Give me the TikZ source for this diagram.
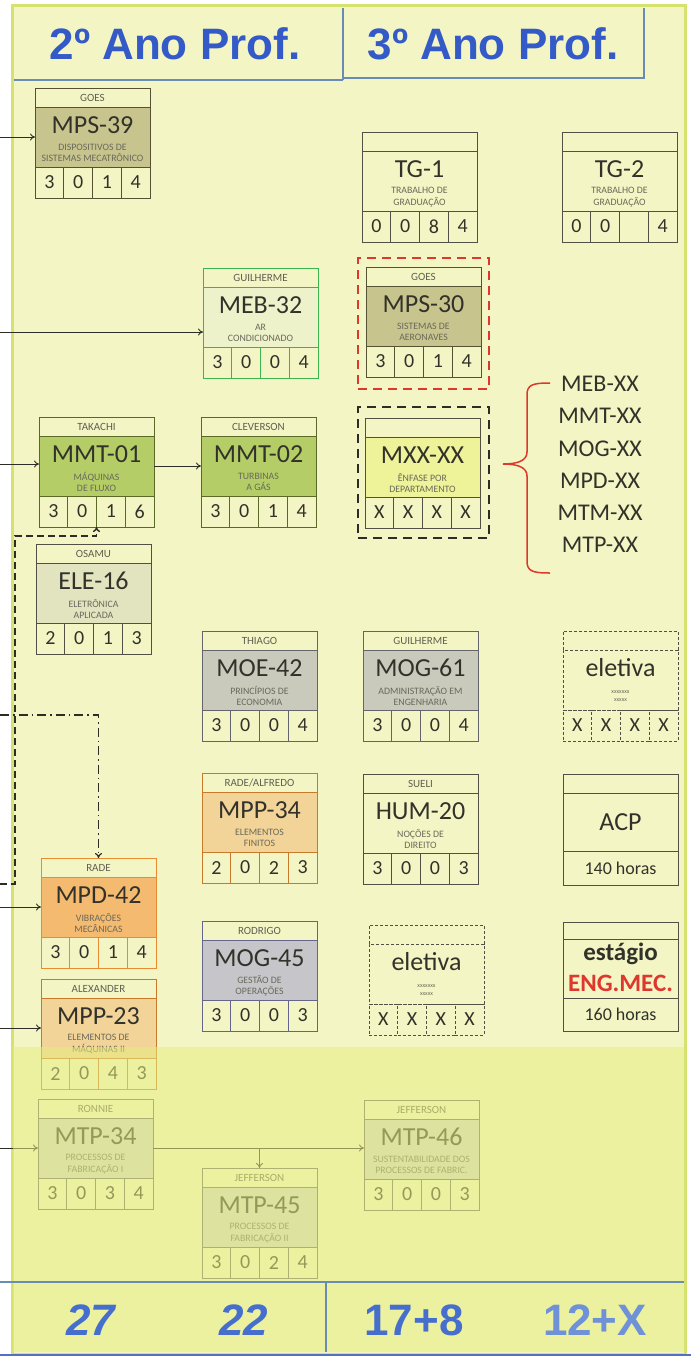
\documentclass[tikz,border=0pt]{standalone}
\usepackage{fontspec}
\setmainfont{Carlito}
\newfontfamily\titlefont{Liberation Sans}
\usetikzlibrary{arrows.meta}
\definecolor{pagec}{RGB}{243,246,196}
\definecolor{framec}{RGB}{214,226,110}
\definecolor{bandc}{RGB}{230,237,128}
\definecolor{titleblue}{RGB}{52,90,200}
\definecolor{numblue}{RGB}{70,110,205}
\definecolor{numlight}{RGB}{110,145,215}
\definecolor{rulec}{RGB}{105,140,180}
\definecolor{codec}{RGB}{50,50,42}
\definecolor{profc}{RGB}{95,95,82}
\definecolor{descc}{RGB}{105,105,90}
\definecolor{linec}{RGB}{45,45,40}
\definecolor{redc}{RGB}{222,55,45}
\definecolor{plainb}{RGB}{80,80,68}
\definecolor{khakib}{RGB}{85,82,52}
\definecolor{khakim}{RGB}{200,196,142}
\definecolor{mmtb}{RGB}{90,105,40}
\definecolor{mmtm}{RGB}{180,205,102}
\definecolor{mebb}{RGB}{60,180,80}
\definecolor{mebm}{RGB}{238,242,202}
\definecolor{elem}{RGB}{226,228,192}
\definecolor{mxxm}{RGB}{238,242,152}
\definecolor{grayb}{RGB}{100,100,108}
\definecolor{graym}{RGB}{202,202,188}
\definecolor{oranlb}{RGB}{200,122,42}
\definecolor{oranlm}{RGB}{243,212,152}
\definecolor{orandb}{RGB}{232,140,50}
\definecolor{orandm}{RGB}{244,186,112}
\definecolor{lavb}{RGB}{100,100,140}
\definecolor{lavm}{RGB}{198,198,202}
\definecolor{mtpb}{RGB}{105,105,95}
\definecolor{mtpm}{RGB}{212,214,196}
\tikzset{
  box/.style={draw, line width=0.9pt, inner sep=0pt, outer sep=0pt},
  hdr/.style={box, minimum width=115pt, minimum height=19pt, text=profc, font=\fontsize{11}{11}\selectfont},
  mainbox/.style={box, minimum width=115pt, minimum height=60pt},
  cell/.style={box, minimum width=28.75pt, minimum height=31pt, text=codec, font=\fontsize{20}{20}\selectfont},
  codetxt/.style={inner sep=0pt, text=codec, font=\fontsize{26}{26}\selectfont, anchor=base},
  descfont/.style={font=\fontsize{9.8}{11.5}\selectfont},
  desctxt/.style={inner sep=0pt, text=descc, align=center, descfont},
  arr/.style={-{To[length=5pt,width=7pt]}, line width=0.9pt, draw=linec},
  plain/.style={draw=plainb},
  khaki/.style={draw=khakib},
  mmt/.style={draw=mmtb},
  mebs/.style={draw=mebb},
  grays/.style={draw=grayb},
  oranl/.style={draw=oranlb},
  orand/.style={draw=orandb},
  lav/.style={draw=lavb},
  mtp/.style={draw=mtpb},
  eletd/.style={draw=plainb, dash pattern=on 3pt off 2pt},
  title/.style={inner sep=0pt, anchor=base, text=titleblue, font=\titlefont\bfseries\fontsize{44}{44}\selectfont},
  bignum/.style={inner sep=0pt, anchor=base, text=numblue, font=\titlefont\bfseries\itshape\fontsize{44}{44}\selectfont},
  listtxt/.style={inner sep=0pt, text=codec, font=\fontsize{24}{24}\selectfont},
}
\newcommand\course[9]{%
  \node[hdr,#4,anchor=north west] (#1h) at (#2,#3) {#6};
  \node[mainbox,#4,fill=#5,anchor=north west] (#1) at (#2,#3+19) {};
  \node[codetxt] (#1code) at (#2+57.5,#3+45) {#7};
  \node[desctxt] (#1desc) at (#2+57.5,#3+65) {#8};
  \foreach \d [count=\i] in {#9} {
    \node[cell,#4,anchor=north west] (#1c\i) at (#2+28.75*\i-28.75,#3+79) {\d};
  }%
}
\begin{document}
\begin{tikzpicture}[x=1pt,y=-1pt]
\useasboundingbox (0,0) rectangle (691,1358);
\fill[white] (0,0) rectangle (691,1358);
\draw[framec, line width=3pt, fill=pagec] (12,5) rectangle (685,1354);

% header
\draw[rulec, line width=2pt] (14,80) -- (343,80) (343,8) -- (343,80) (343,78) -- (644,78) -- (644,8);
\node[title] (t2) at (175,59) {2º Ano Prof.};
\node[title] (t3) at (493,59) {3º Ano Prof.};

% dashed frames
\node[draw=redc, dash pattern=on 9pt off 6pt, line width=2pt, minimum width=131pt, minimum height=131pt, inner sep=0pt, anchor=north west] (mps30frame) at (357,257) {};
\node[draw=linec, dash pattern=on 9pt off 6pt, line width=2pt, minimum width=131pt, minimum height=131pt, inner sep=0pt, anchor=north west] (mxxframe) at (357,406) {};

% courses
\course{mps39}{35}{88}{khaki}{khakim}{GOES}{MPS-39}{DISPOSITIVOS DE\\SISTEMAS MECATRÔNICO}{3,0,1,4}
\course{tg1}{362}{132}{plain}{pagec}{}{TG-1}{TRABALHO DE\\GRADUAÇÃO}{0,0,8,4}
\course{tg2}{562}{132}{plain}{pagec}{}{TG-2}{TRABALHO DE\\GRADUAÇÃO}{0,0,{},4}
\course{meb32}{203}{268}{mebs}{mebm}{GUILHERME}{MEB-32}{AR\\CONDICIONADO}{3,0,0,4}
\course{mps30}{366}{267}{khaki}{khakim}{GOES}{MPS-30}{SISTEMAS DE\\AERONAVES}{3,0,1,4}
\course{mmt01}{39}{417}{mmt}{mmtm}{TAKACHI}{MMT-01}{MÁQUINAS\\DE FLUXO}{3,0,1,6}
\course{mmt02}{201}{417}{mmt}{mmtm}{CLEVERSON}{MMT-02}{TURBINAS\\A GÁS}{3,0,1,4}
\course{mxx}{365}{418}{plain}{mxxm}{}{MXX-XX}{ÊNFASE POR\\DEPARTAMENTO}{X,X,X,X}
\course{ele16}{36}{544}{plain}{elem}{OSAMU}{ELE-16}{ELETRÔNICA\\APLICADA}{2,0,1,3}
\course{moe42}{202}{631}{grays}{graym}{THIAGO}{MOE-42}{PRINCÍPIOS DE\\ECONOMIA}{3,0,0,4}
\course{mog61}{363}{631}{grays}{graym}{GUILHERME}{MOG-61}{ADMINISTRAÇÃO EM\\ENGENHARIA}{3,0,0,4}
\course{mpp34}{202}{773}{oranl}{oranlm}{RADE/ALFREDO}{MPP-34}{ELEMENTOS\\FINITOS}{2,0,2,3}
\course{hum20}{363}{774}{plain}{pagec}{SUELI}{HUM-20}{NOÇÕES DE\\DIREITO}{3,0,0,3}
\course{mpd42}{41}{858}{orand}{orandm}{RADE}{MPD-42}{VIBRAÇÕES\\MECÂNICAS}{3,0,1,4}
\course{mog45}{202}{921}{lav}{lavm}{RODRIGO}{MOG-45}{GESTÃO DE\\OPERAÇÕES}{3,0,0,3}
\course{mpp23}{41}{979}{oranl}{oranlm}{ALEXANDER}{MPP-23}{ELEMENTOS DE\\MÁQUINAS II}{2,0,4,3}
\course{mtp34}{38}{1099}{mtp}{mtpm}{RONNIE}{MTP-34}{PROCESSOS DE\\FABRICAÇÃO I}{3,0,3,4}
\course{mtp45}{202}{1168}{mtp}{mtpm}{JEFFERSON}{MTP-45}{PROCESSOS DE\\FABRICAÇÃO II}{3,0,2,4}
\course{mtp46}{364}{1100}{mtp}{mtpm}{JEFFERSON}{MTP-46}{SUSTENTABILIDADE DOS\\PROCESSOS DE FABRIC.}{3,0,0,3}
\begin{scope}[descfont/.style={font=\fontsize{6}{8}\selectfont}]
\course{elet1}{563}{631}{eletd}{pagec}{}{eletiva}{xxxxxxx\\xxxxx}{X,X,X,X}
\course{elet2}{369}{925}{eletd}{pagec}{}{eletiva}{xxxxxxx\\xxxxx}{X,X,X,X}
\end{scope}

% ACP
\node[hdr,plain,anchor=north west] (acph) at (563,774) {};
\node[box,plain,minimum width=115pt,minimum height=58pt,anchor=north west,text=codec,font=\fontsize{26}{26}\selectfont] (acp) at (563,793) {ACP};
\node[box,plain,minimum width=115pt,minimum height=34pt,anchor=north west,text=codec,font=\fontsize{18}{18}\selectfont] (acpb) at (563,851) {140 horas};

% estagio
\node[box,plain,minimum width=115pt,minimum height=17pt,anchor=north west] (esth) at (563,922) {};
\node[box,plain,minimum width=115pt,minimum height=59pt,anchor=north west] (est) at (563,939) {};
\node[inner sep=0pt,anchor=base,text=codec,font=\bfseries\fontsize{25}{25}\selectfont] (estt) at (620.5,960) {estágio};
\node[inner sep=0pt,anchor=base,text=redc,font=\bfseries\fontsize{25}{25}\selectfont] (estm) at (620.5,991) {ENG.MEC.};
\node[box,plain,minimum width=115pt,minimum height=33pt,anchor=north west,text=codec,font=\fontsize{18}{18}\selectfont] (estb) at (563,998) {160 horas};

% brace and list
\draw[redc, line width=1.5pt] (550,383) .. controls (532,383) and (527,385) .. (527,395) -- (527,452) .. controls (527,461) and (517,464) .. (503,464) .. controls (517,464) and (527,467) .. (527,476) -- (527,561) .. controls (527,571) and (532,573) .. (550,573);
\node[listtxt] (lmeb) at (600,384) {MEB-XX};
\node[listtxt] (lmmt) at (600,416) {MMT-XX};
\node[listtxt] (lmog) at (600,449) {MOG-XX};
\node[listtxt] (lmpd) at (600,481) {MPD-XX};
\node[listtxt] (lmtm) at (600,513) {MTM-XX};
\node[listtxt] (lmtp) at (600,545) {MTP-XX};

% connectors
\coordinate (l1) at (0,137);
\draw[arr] (l1) -- (l1 -| mps39.west);
\coordinate (l2) at (0,332);
\draw[arr] (l2) -- (l2 -| meb32.west);
\coordinate (l3) at (0,464);
\draw[arr] (l3) -- (l3 -| mmt01.west);
\draw[arr] (mmt01.east) -- (mmt02.west);
\coordinate (l4) at (0,884);
\coordinate (b4) at (15,536);
\draw[arr, line width=1.4pt, dash pattern=on 7pt off 4pt] (l4) -- (l4 -| b4) -- (b4) -- (b4 -| mmt01c2.south east) -- (mmt01c2.south east);
\coordinate (l5) at (0,715);
\draw[arr, line width=1.2pt, dash pattern=on 9pt off 4pt on 1.5pt off 4pt] (l5) -- (l5 -| mpd42h.north) -- (mpd42h.north);
\coordinate (l6) at (0,907);
\draw[arr] (l6) -- (l6 -| mpd42.west);
\coordinate (l7) at (0,1028);
\draw[arr] (l7) -- (l7 -| mpp23.west);
\coordinate (l8) at (0,1148);
\draw[arr] (l8) -- (l8 -| mtp34.west);
\draw[arr] (mtp34.east) -- (mtp34.east -| mtp46.west);
\draw[arr] (mtp45h.north |- mtp34.east) -- (mtp45h.north);

% bottom band overlay
\fill[bandc, opacity=0.55] (13,1047) rectangle (684,1352);

% footer
\draw[rulec, line width=1.5pt] (0,1282) -- (684,1282) (326,1282) -- (326,1352);
\draw[rulec!80!blue, line width=2pt] (0,1355) -- (691,1355);
\node[bignum] (n27) at (91,1335) {27};
\node[bignum] (n22) at (244,1335) {22};
\node[bignum, font=\titlefont\bfseries\fontsize{44}{44}\selectfont] (n178) at (414,1335) {17+8};
\node[bignum, text=numlight, font=\titlefont\bfseries\fontsize{44}{44}\selectfont] (n12x) at (595,1335) {12+X};
\end{tikzpicture}
\end{document}
